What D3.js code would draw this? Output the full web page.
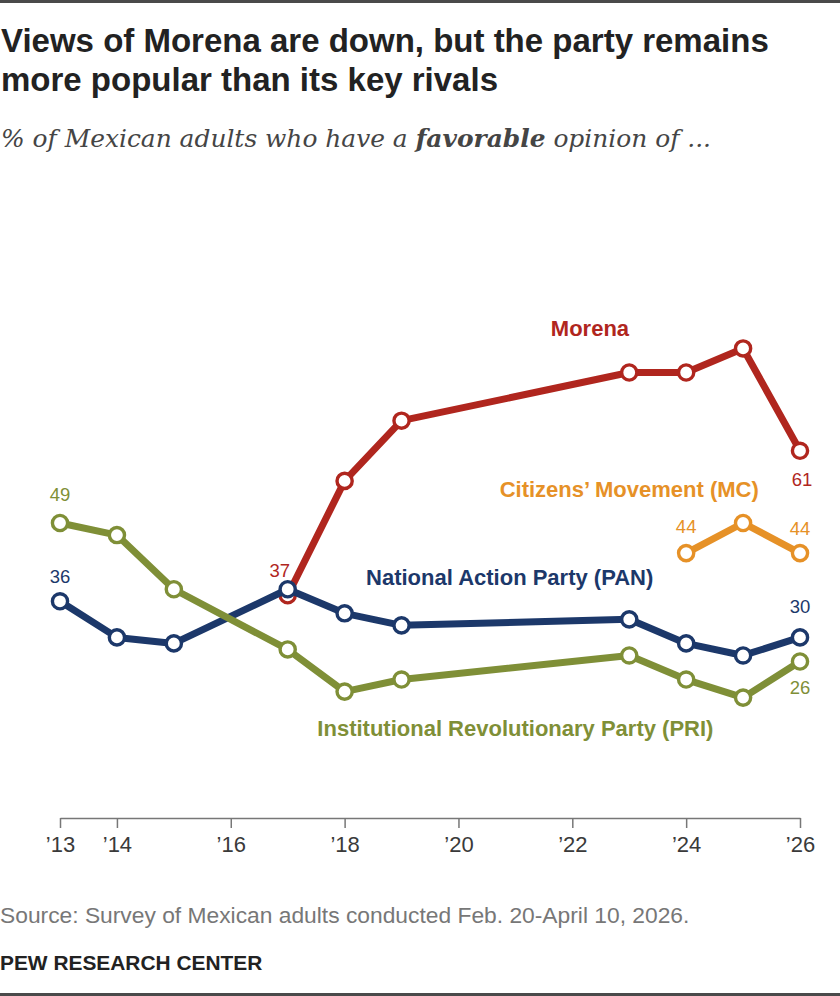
<!DOCTYPE html>
<html>
<head>
<meta charset="utf-8">
<script src="https://cdn.jsdelivr.net/npm/d3@7"></script>
<style>
  body { margin: 0; background: #fff; }
  #chart text { font-family: "Liberation Sans", Arial, sans-serif; }
</style>
</head>
<body>
<div id="chart"></div>
<script>
// Data
const years = [2013, 2014, 2015, 2017, 2018, 2019, 2023, 2024, 2025, 2026];
const morenaYears = [2017, 2018, 2019, 2023, 2024, 2025, 2026];
const morenaValues = [37, 56, 66, 74, 74, 78, 61];
const panValues = [36, 30, 29, 38, 34, 32, 33, 29, 27, 30];
const priValues = [49, 47, 38, 28, 21, 23, 27, 23, 20, 26];
const mcYears = [2024, 2025, 2026];
const mcValues = [44, 49, 44];
const tickYears = [2013, 2014, 2016, 2018, 2020, 2022, 2024, 2026];

const width = 840;
const height = 996;

const colors = {
  morena: "#b0261e",
  pan: "#1c386a",
  pri: "#7f8f37",
  mc: "#e69127",
};

const svg = d3
  .select("#chart")
  .append("svg")
  .attr("width", width)
  .attr("height", height);

// top and bottom rules
svg.append("rect").attr("x", 0).attr("y", 0).attr("width", width).attr("height", 3).attr("fill", "#4a4a4a");
svg.append("rect").attr("x", 0).attr("y", height - 3).attr("width", width).attr("height", 3).attr("fill", "#4a4a4a");

// Title
const title = svg
  .append("text")
  .style("font-size", "33px")
  .style("font-weight", "bold")
  .style("fill", "#222");
title.append("tspan").attr("x", 1).attr("y", 52).text("Views of Morena are down, but the party remains");
title.append("tspan").attr("x", 1).attr("y", 91).text("more popular than its key rivals");

// Subtitle
const sub = svg
  .append("text")
  .attr("x", 1)
  .attr("y", 147)
  .style("font-family", "'DejaVu Serif', Georgia, serif")
  .style("font-style", "italic")
  .style("font-size", "24.9px")
  .style("fill", "#454545");
sub.append("tspan").text("% of Mexican adults who have a ");
sub.append("tspan").style("font-weight", "bold").text("favorable");
sub.append("tspan").text(" opinion of ...");

// Scales
const x = d3.scaleLinear().domain([2013, 2026]).range([60, 800]);
const y = d3.scaleLinear().domain([0, 100]).range([818, 216]);

// X axis
const xAxis = svg
  .append("g")
  .attr("transform", `translate(0, ${y(0)})`)
  .call(
    d3
      .axisBottom(x)
      .tickValues(tickYears)
      .tickSize(10)
      .tickPadding(8)
      .tickSizeOuter(0)
      .tickFormat((d) => "\u2019" + String(d).slice(2))
  );
xAxis.select(".domain").attr("stroke", "#777").attr("stroke-width", 1.5);
xAxis.selectAll(".tick line").attr("stroke", "#777").attr("stroke-width", 1.5);
xAxis
  .selectAll(".tick text")
  .style("font-size", "22px")
  .style("fill", "#3a3a3a")
  .style("font-family", "'Liberation Sans', Arial, sans-serif");

// Series, drawn in this order so PAN sits over Morena and PRI over PAN
const series = [
  { key: "morena", years: morenaYears, values: morenaValues },
  { key: "mc", years: mcYears, values: mcValues },
  { key: "pan", years: years, values: panValues },
  { key: "pri", years: years, values: priValues },
];

const line = d3
  .line()
  .x((d) => x(d.year))
  .y((d) => y(d.value));

series.forEach((s) => {
  const pts = s.years.map((yr, i) => ({ year: yr, value: s.values[i] }));
  const g = svg.append("g");
  g.append("path")
    .datum(pts)
    .attr("d", line)
    .attr("fill", "none")
    .attr("stroke", colors[s.key])
    .attr("stroke-width", 7)
    .attr("stroke-linejoin", "round");
  g.selectAll("circle")
    .data(pts)
    .enter()
    .append("circle")
    .attr("cx", (d) => x(d.year))
    .attr("cy", (d) => y(d.value))
    .attr("r", 7.6)
    .attr("fill", "#fff")
    .attr("stroke", colors[s.key])
    .attr("stroke-width", 3.4);
});

// Value labels: [series, year, value, dx, dy]
const valueLabels = [
  ["pri", 2013, 49, 0, -22],
  ["pan", 2013, 36, 0, -18],
  ["morena", 2017, 37, -8, -18],
  ["morena", 2026, 61, 2, 35],
  ["mc", 2024, 44, 0, -20],
  ["mc", 2026, 44, 0, -18],
  ["pan", 2026, 30, 0, -24],
  ["pri", 2026, 26, 0, 33],
];

svg
  .selectAll(".value-label")
  .data(valueLabels)
  .enter()
  .append("text")
  .attr("class", "value-label")
  .attr("x", (d) => x(d[1]) + d[3])
  .attr("y", (d) => y(d[2]) + d[4])
  .attr("text-anchor", "middle")
  .style("font-size", "18.5px")
  .style("fill", (d) => colors[d[0]])
  .text((d) => d[2]);

// Series names, placed in data space
const seriesLabels = [
  ["morena", "Morena", 2022.31, 80],
  ["mc", "Citizens\u2019 Movement (MC)", 2023.0, 53.3],
  ["pan", "National Action Party (PAN)", 2020.9, 38.7],
  ["pri", "Institutional Revolutionary Party (PRI)", 2021.0, 13.6],
];

svg
  .selectAll(".series-label")
  .data(seriesLabels)
  .enter()
  .append("text")
  .attr("class", "series-label")
  .attr("x", (d) => x(d[2]))
  .attr("y", (d) => y(d[3]))
  .attr("text-anchor", "middle")
  .style("font-size", "22px")
  .style("font-weight", "bold")
  .style("fill", (d) => colors[d[0]])
  .text((d) => d[1]);

// Source and credit
svg
  .append("text")
  .attr("x", 0)
  .attr("y", 923)
  .style("font-size", "22.8px")
  .style("fill", "#777")
  .text("Source: Survey of Mexican adults conducted Feb. 20-April 10, 2026.");

svg
  .append("text")
  .attr("x", 0)
  .attr("y", 970)
  .style("font-size", "20.9px")
  .style("font-weight", "bold")
  .style("fill", "#222")
  .text("PEW RESEARCH CENTER");
</script>
</body>
</html>
